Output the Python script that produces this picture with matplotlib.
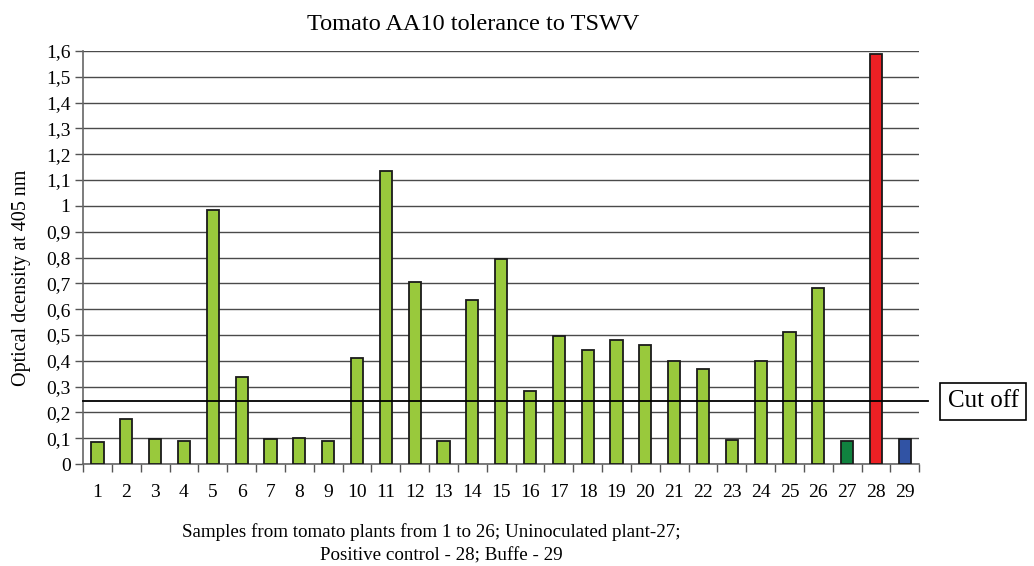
import matplotlib
matplotlib.use("Agg")
import matplotlib.pyplot as plt
import numpy as np

# ---------------------------------------------------------------------------
# data
# ---------------------------------------------------------------------------
samples = [str(i) for i in range(1, 30)]
od_405 = [0.085, 0.175, 0.097, 0.090, 0.985, 0.337, 0.097, 0.100, 0.090, 0.410,
          1.135, 0.705, 0.090, 0.635, 0.795, 0.285, 0.495, 0.440, 0.480, 0.460,
          0.400, 0.370, 0.095, 0.400, 0.510, 0.683, 0.090, 1.588, 0.097]
cut_off = 0.244
y_ticks = [0, 0.1, 0.2, 0.3, 0.4, 0.5, 0.6, 0.7, 0.8, 0.9, 1.0,
           1.1, 1.2, 1.3, 1.4, 1.5, 1.6]
y_labels = ["0", "0,1", "0,2", "0,3", "0,4", "0,5", "0,6", "0,7", "0,8", "0,9", "1",
            "1,1", "1,2", "1,3", "1,4", "1,5", "1,6"]

GREEN = "#99C93C"
bar_colors = [GREEN] * 26 + ["#10823F", "#EC2024", "#3153A4"]

plt.rcParams["font.family"] = ["Liberation Serif", "DejaVu Serif"]

fig = plt.figure(figsize=(10.34, 5.66), dpi=100)
ax = fig.add_axes([0.0803, 0.180, 0.8087, 0.730])

x = np.arange(len(samples))
ax.bar(x, od_405, width=0.42, color=bar_colors, edgecolor="#1a1a1a", lw=1.3, zorder=3)

ax.set_xlim(-0.5, len(samples) - 0.5)
ax.set_ylim(0, 1.6)

# gridlines
ax.set_yticks(y_ticks)
ax.set_yticklabels(y_labels, fontsize=14)
ax.yaxis.grid(True, color="#4a4a4a", lw=1.0, zorder=0)
ax.tick_params(axis="y", length=6, width=1, color="#555555", pad=3)

# category labels at centers, ticks at boundaries
ax.set_xticks(x)
ax.set_xticklabels(samples, fontsize=14)
ax.tick_params(axis="x", which="major", length=0, pad=14)
ax.set_xticks(np.arange(-0.5, len(samples)), minor=True)
ax.tick_params(axis="x", which="minor", length=6, width=1, color="#555555")

for s in ["top", "right"]:
    ax.spines[s].set_visible(False)
for s in ["left", "bottom"]:
    ax.spines[s].set_color("#666666")
    ax.spines[s].set_linewidth(1.2)

# cut off line, running slightly past the axes
ax.plot([-0.5, len(samples) - 0.5 + 0.3], [cut_off, cut_off], color="black",
        lw=1.3, clip_on=False, zorder=4)
fig.text(0.951, 1 - 401 / 566, "Cut off", fontsize=18, ha="center", va="center",
         bbox=dict(boxstyle="square,pad=0.3", fc="white", ec="black", lw=1.2))

fig.text(0.4575, 1 - 25 / 566, "Tomato AA10 tolerance to TSWV", fontsize=17.5,
         ha="center", va="center")
fig.text(0.021, 1 - 278 / 566, "Optical dcensity at 405 nm", fontsize=14.5,
         rotation=90, ha="center", va="center")
fig.text(0.417, 1 - 532 / 566,
         "Samples from tomato plants from 1 to 26; Uninoculated plant-27;",
         fontsize=13.7, ha="center", va="center")
fig.text(0.427, 1 - 556 / 566, "Positive control - 28; Buffe - 29",
         fontsize=13.7, ha="center", va="center")

fig.savefig("out.png", dpi=100)
